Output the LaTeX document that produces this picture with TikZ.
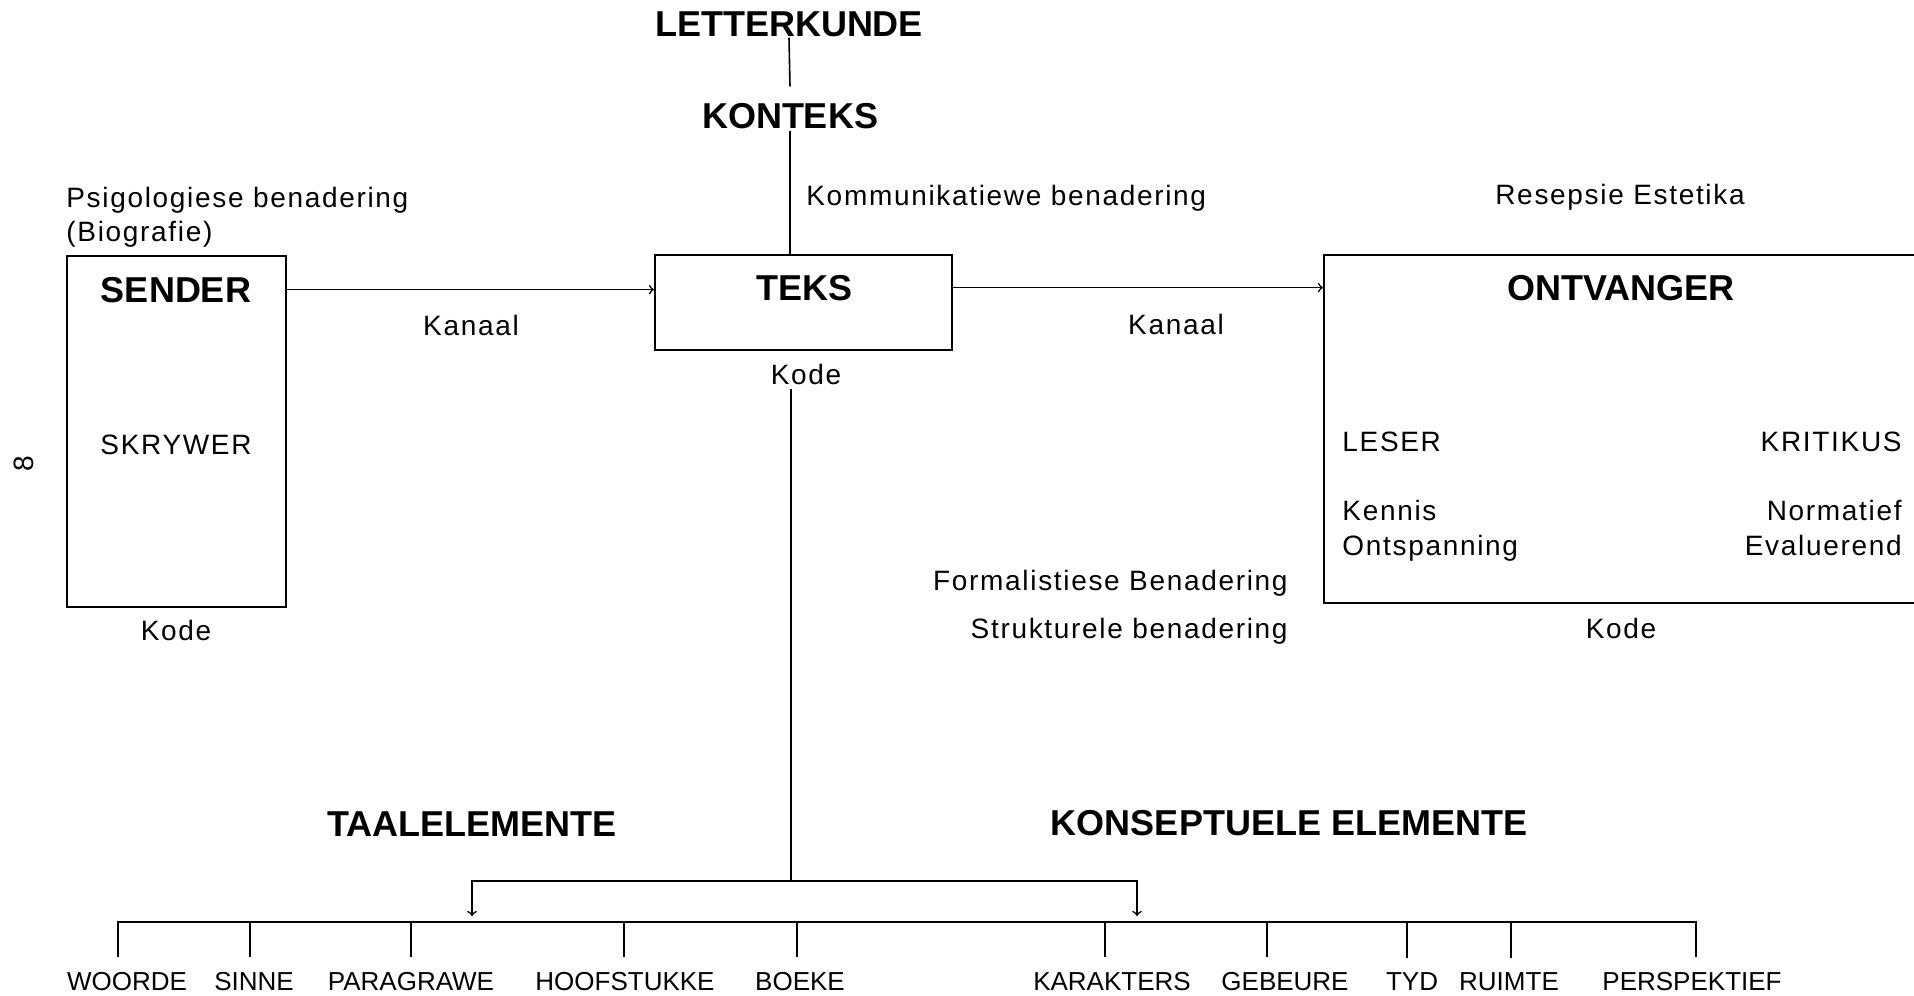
\documentclass[tikz,border=0pt]{standalone}
\usepackage{fontspec}
\setmainfont{Liberation Sans}
\newfontfamily\spaced[LetterSpace=6]{Liberation Sans}
\begin{document}
\begin{tikzpicture}[x=0.5pt,y=-0.5pt,
	hd/.style={font=\fontsize{18}{20}\selectfont\bfseries,anchor=base,inner sep=0pt},
	txt/.style={font=\fontsize{14}{16}\selectfont\spaced,anchor=base,inner sep=0pt},
	lbl/.style={font=\fontsize{13}{15}\selectfont,anchor=base,inner sep=0pt},
	box/.style={draw,line width=1pt,inner sep=0pt},
	line/.style={line width=0.8pt}]
\useasboundingbox (0,0) rectangle (1914,995);
\clip (0,0) rectangle (1914,995);
\node[hd] (letterkunde) at (789,37) {LETTERKUNDE};
\node[hd] (konteks) at (790,128) {KONTEKS};
\node[box,minimum width=109.5pt,minimum height=175.5pt] (sbox) at (176.5,431.5) {};
\node[box,minimum width=148.5pt,minimum height=47.5pt] (tbox) at (803.5,302.5) {};
\node[box,minimum width=303pt,minimum height=174pt] (obox) at (1627,429) {};
\node[hd] (sender) at (176,302) {SENDER};
\node[hd] (teks) at (804,300) {TEKS};
\node[hd] (ontvanger) at (1621,300) {ONTVANGER};
\node[txt,anchor=base west] (psig) at (66,207) {Psigologiese benadering};
\node[txt,anchor=base west] (bio) at (66,241) {(Biografie)};
\node[txt] (skrywer) at (176,454) {SKRYWER};
\node[txt] (kodeS) at (176,640) {Kode};
\node[txt,rotate=90,anchor=center] (page) at (24,464) {8};
\node[txt] (kanaalA) at (471,335) {Kanaal};
\node[txt] (kodeT) at (806,384) {Kode};
\node[txt,anchor=base west] (komm) at (806,205) {Kommunikatiewe benadering};
\node[txt] (kanaalB) at (1176,334) {Kanaal};
\node[txt] (resepsie) at (1620,204) {Resepsie Estetika};
\node[txt,anchor=base west] (leser) at (1342,451) {LESER};
\node[txt,anchor=base west] (kennis) at (1342,520) {Kennis};
\node[txt,anchor=base west] (ontsp) at (1342,555) {Ontspanning};
\node[txt,anchor=base east] (kritikus) at (1902,451) {KRITIKUS};
\node[txt,anchor=base east] (norm) at (1902,520) {Normatief};
\node[txt,anchor=base east] (eval) at (1902,555) {Evaluerend};
\node[txt] (kodeO) at (1621,638) {Kode};
\node[txt,anchor=base east] (formal) at (1288,590) {Formalistiese Benadering};
\node[txt,anchor=base east] (struk) at (1288,638) {Strukturele benadering};
\node[hd] (taal) at (472,836) {TAALELEMENTE};
\node[hd] (konsep) at (1289,835) {KONSEPTUELE ELEMENTE};
\foreach \name/\x/\tx/\word in {woorde/127/118/WOORDE,sinne/254/250/SINNE,paragrawe/411/411/PARAGRAWE,
	hoofstukke/625/624/HOOFSTUKKE,boeke/800/797/BOEKE,karakters/1112/1105/KARAKTERS,gebeure/1285/1267/GEBEURE,
	tyd/1412/1407/TYD,ruimte/1509/1511/RUIMTE,perspektief/1692/1696/PERSPEKTIEF}{
	\node[lbl] (\name) at (\x,990) {\word};
	\coordinate (\name-t) at (\tx,922);}
\coordinate (split) at (791,881);
\coordinate (ta) at (472,922);
\coordinate (ka) at (1137,922);
\draw[line] (letterkunde.south) -- ([yshift=8pt]konteks.north);
\draw[line] ([yshift=-1pt]konteks.south) -- (konteks |- tbox.north);
\draw[line,->] (sbox.east |- sender) -- (tbox.west |- sender);
\draw[line,->] (tbox.east |- teks) -- (obox.west |- teks);
\draw[line] ([yshift=-2pt]kodeT.south -| split) -- (split);
\draw[line,->,shorten >=3pt] (split) -| (ta);
\draw[line,->,shorten >=3pt] (split) -| (ka);
\draw[line width=1.2pt] ([yshift=7pt]woorde.north -| woorde-t) -- (woorde-t) -- (perspektief-t) -- ([yshift=7pt]perspektief.north -| perspektief-t);
\foreach \name in {sinne,paragrawe,hoofstukke,boeke,karakters,gebeure,tyd,ruimte}
	\draw[line] ([yshift=7pt]\name.north -| \name-t) -- (\name-t);
\end{tikzpicture}
\end{document}
